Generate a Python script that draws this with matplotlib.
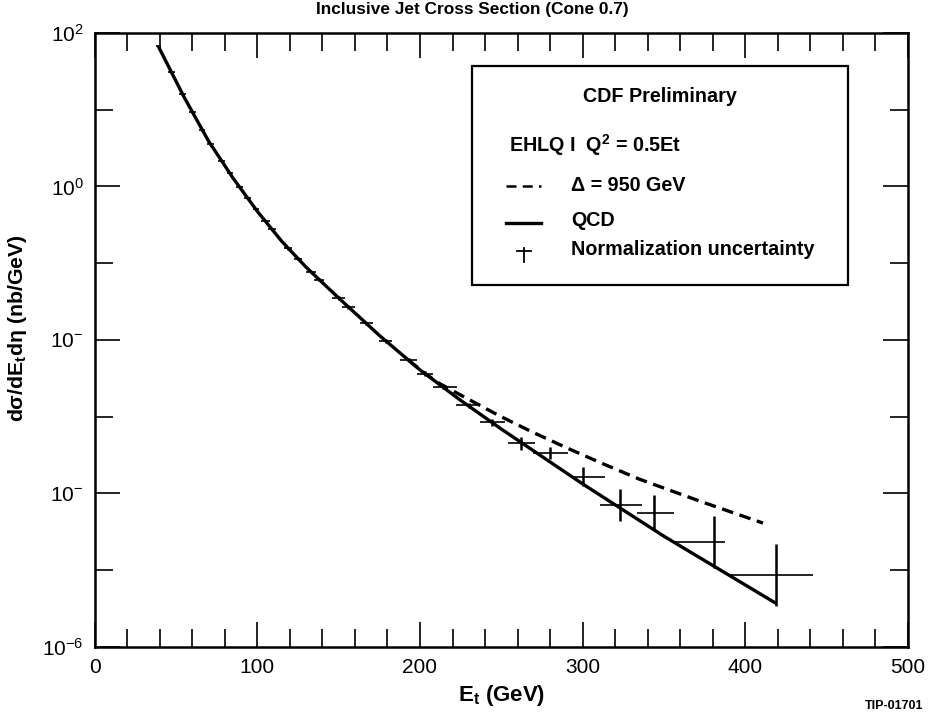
import numpy as np
import matplotlib
matplotlib.use('Agg')
import matplotlib.pyplot as plt
from matplotlib.ticker import FixedLocator, FixedFormatter, NullFormatter
from matplotlib.patches import Rectangle

# Measured inclusive jet cross section (nb/GeV) vs Et (GeV)
et = [38.9, 47, 54, 60, 66, 71, 78, 83, 89, 94, 99, 105, 109, 119, 125,
      133, 138, 150, 156, 167, 179, 193, 203, 214, 230, 244, 262, 280,
      300, 323, 344, 381, 419]
xsec = [67.6, 31.2, 15.8, 9.29, 5.50, 3.60, 2.15, 1.49, 0.982, 0.703,
        0.504, 0.349, 0.275, 0.156, 0.114, 0.0768, 0.0610, 0.0351, 0.0268,
        0.0164, 9.68e-3, 5.42e-3, 3.64e-3, 2.44e-3, 1.40e-3, 8.41e-4,
        4.47e-4, 3.40e-4, 1.65e-4, 7.08e-5, 5.62e-5, 2.31e-5, 8.67e-6]
# bin edges (horizontal bars)
bin_lo = [37.5, 45, 52, 58, 64, 69, 76, 81, 87, 92, 97, 102.5, 106.5, 116.5,
          122.5, 130, 135, 146, 152, 163, 175, 188, 198, 208, 222, 237, 254,
          269.4, 293.4, 310.6, 333.3, 355.5, 388.7]
bin_hi = [40.5, 49, 56, 62, 68, 73, 80, 85, 91, 96, 101, 107.5, 111.5, 121.5,
          127.5, 136, 141, 154, 160, 171, 183, 198, 208, 222.6, 237, 252,
          270.6, 290.9, 313.7, 336.4, 356.1, 387.5, 441.6]
# multiplicative error (upper = y*f, lower = y/f)
err_factor = [1.03, 1.03, 1.03, 1.03, 1.03, 1.03, 1.03, 1.03, 1.03, 1.03,
              1.03, 1.03, 1.03, 1.04, 1.04, 1.04, 1.04, 1.05, 1.05, 1.05,
              1.06, 1.06, 1.07, 1.08, 1.09, 1.10, 1.23, 1.20, 1.33, 1.62,
              1.70, 2.19, 2.51]

# QCD prediction
qcd_et = [38.9, 55, 70, 85, 100, 115, 130, 150, 175, 200, 225, 250, 300,
          350, 419.4]
qcd_xsec = [67.6, 14.4, 3.87, 1.28, 0.471, 0.192, 0.0882, 0.0351, 0.01143,
            4.06e-3, 1.63e-3, 6.89e-4, 1.33e-4, 2.77e-5, 3.65e-6]

# EHLQ I with compositeness scale 950 GeV
comp_et = [193, 203, 212, 226, 249, 269, 290, 311, 335, 372, 411]
comp_xsec = [5.42e-3, 3.66e-3, 2.7e-3, 1.86e-3, 1.02e-3, 6.31e-4, 3.94e-4,
             2.51e-4, 1.53e-4, 7.94e-5, 4.10e-5]

ytick_vals = [1e-6, 1e-4, 1e-2, 1e0, 1e2]
ytick_labels = ['$10^{-6}$', '$10^{-}$', '$10^{-}$', '$10^{0}$', '$10^{2}$']


def main():
    plt.rcParams['font.family'] = ['Liberation Sans', 'DejaVu Sans']
    plt.rcParams['mathtext.fontset'] = 'custom'
    plt.rcParams['mathtext.rm'] = 'Liberation Sans'
    plt.rcParams['mathtext.it'] = 'Liberation Sans'
    plt.rcParams['mathtext.bf'] = 'Liberation Sans:bold'

    fig = plt.figure(figsize=(9.3, 7.14), dpi=100)
    ax = fig.add_axes([0.102, 0.094, 0.874, 0.86])

    x = np.array(et)
    y = np.array(xsec)
    f = np.array(err_factor)
    xerr = [x - np.array(bin_lo), np.array(bin_hi) - x]
    yerr = [y - y / f, y * f - y]

    ax.plot(qcd_et, qcd_xsec, color='black', lw=2.4, solid_capstyle='butt')
    ax.plot(comp_et, comp_xsec, color='black', lw=2.4,
            linestyle=(0, (3.5, 2.0)))
    ax.errorbar(x, y, xerr=xerr, fmt='none', ecolor='black',
                elinewidth=1.2, capsize=0)
    ax.errorbar(x, y, yerr=yerr, fmt='none', ecolor='black',
                elinewidth=1.8, capsize=0)

    ax.set_yscale('log')
    ax.set_xlim(0, 500)
    ax.set_ylim(1e-6, 1e2)

    ax.xaxis.set_major_locator(FixedLocator([0, 100, 200, 300, 400, 500]))
    ax.xaxis.set_minor_locator(FixedLocator(np.arange(20, 500, 20)))
    ax.yaxis.set_major_locator(FixedLocator(ytick_vals))
    ax.yaxis.set_major_formatter(FixedFormatter(ytick_labels))
    ax.yaxis.set_minor_locator(FixedLocator([1e-5, 1e-3, 1e-1, 1e1]))
    ax.yaxis.set_minor_formatter(NullFormatter())

    ax.tick_params(which='both', direction='in', top=True, right=True,
                   width=1.2, labelsize=15)
    ax.tick_params(which='major', length=18, pad=8)
    ax.tick_params(which='minor', length=13)
    for s in ax.spines.values():
        s.set_linewidth(1.8)

    fig.text(0.508, 0.986, 'Inclusive Jet Cross Section (Cone 0.7)',
             ha='center', va='center', fontsize=12.4, fontweight='bold')
    ax.set_xlabel(r'E$_\mathbf{t}$ (GeV)', fontsize=16, fontweight='bold',
                  labelpad=4)
    fig.text(0.019, 0.541, r'dσ/dE$_\mathbf{t}$dη (nb/GeV)', rotation=90,
             ha='center', va='center', fontsize=15.3, fontweight='bold')

    # legend box
    tr = ax.transAxes
    ax.add_patch(Rectangle((0.464, 0.590), 0.462, 0.356, transform=tr,
                           fill=False, lw=1.6, color='black', zorder=5))
    ax.text(0.695, 0.896, 'CDF Preliminary', transform=tr, ha='center',
            va='center', fontsize=14.2, fontweight='bold')
    ax.text(0.510, 0.818, r'EHLQ I  Q$^\mathbf{2}$ = 0.5Et', transform=tr,
            ha='left', va='center', fontsize=14.2, fontweight='bold')
    ax.plot([0.506, 0.549], [0.750, 0.750], transform=tr, color='black',
            lw=1.8, linestyle=(0, (4, 2.5)))
    ax.text(0.586, 0.752, 'Δ = 950 GeV', transform=tr, ha='left',
            va='center', fontsize=14.2, fontweight='bold')
    ax.plot([0.506, 0.549], [0.691, 0.691], transform=tr, color='black',
            lw=2.4)
    ax.text(0.586, 0.694, 'QCD', transform=tr, ha='left', va='center',
            fontsize=14.2, fontweight='bold')
    # cross symbol for the normalization uncertainty
    ax.plot([0.528, 0.528], [0.6275, 0.649], transform=tr, color='black',
            lw=1.3)
    ax.plot([0.519, 0.537], [0.644, 0.644], transform=tr, color='black',
            lw=1.3)
    ax.text(0.586, 0.647, 'Normalization uncertainty', transform=tr,
            ha='left', va='center', fontsize=14.2, fontweight='bold')

    fig.text(0.993, 0.003, 'TIP-01701', ha='right', va='bottom', fontsize=9,
             fontweight='bold')

    fig.savefig('out.png', dpi=100)


if __name__ == '__main__':
    main()
